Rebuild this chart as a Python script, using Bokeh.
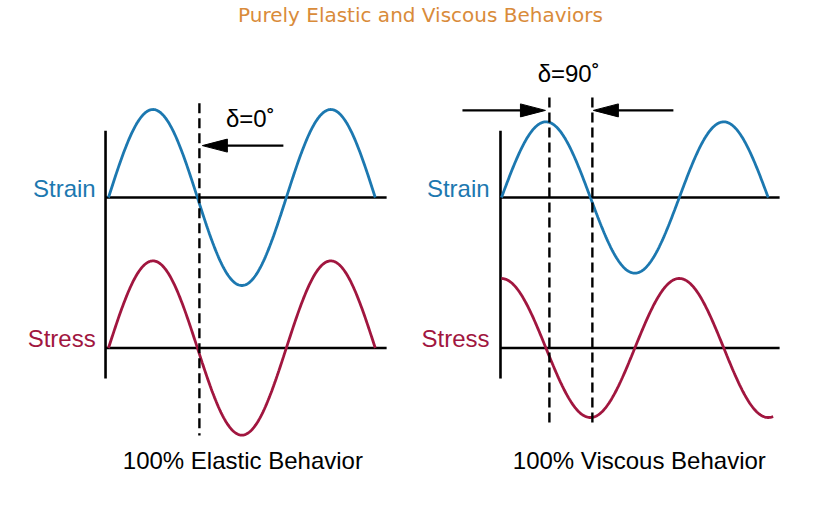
import numpy as np
from bokeh.plotting import figure
from bokeh.models import Range1d
from bokeh.embed import file_html
from bokeh.resources import INLINE
from bokeh.core.properties import value

# ---------------- data ----------------
TITLE = "Purely Elastic and Viscous Behaviors"
PANEL_NAMES = ["100% Elastic Behavior", "100% Viscous Behavior"]
SERIES = ["Strain", "Stress"]
STRAIN_AMP = [1.0, 0.86]          # amplitude of strain curve per panel
STRESS_AMP = [0.99, 0.79]         # amplitude of stress curve per panel
STRESS_LEAD_DEG = [0, 90]         # phase angle delta per panel
STRAIN_END_DEG = [540, 540]
STRESS_END_DEG = [540, 550]
DELTA_LABELS = ["δ=0˚", "δ=90˚"]
MARKER_DEG = [[184], [97, 184]]   # dashed phase markers per panel

# ---------------- layout / style ----------------
PX_PER_DEG = 0.494
PX_PER_UNIT = 88.0
W, H = 810, 520
X0 = -108 / PX_PER_DEG
Y_TOP = 347.5 / PX_PER_UNIT
PANEL_X = [0.0, 795.5]
BASE_Y = {"Strain": 1.71, "Stress": 0.0}
BLUE = "#1C78B0"
RED = "#A1163F"
ORANGE = "#D98B3A"
FONT = value("Liberation Sans")
FS = "24px"

p = figure(width=W, height=H, output_backend="svg", toolbar_location=None,
           x_range=Range1d(X0, X0 + W / PX_PER_DEG),
           y_range=Range1d(Y_TOP - H / PX_PER_UNIT, Y_TOP),
           x_axis_type=None, y_axis_type=None, min_border=0)
p.grid.visible = False
p.outline_line_color = None
p.background_fill_color = "white"
p.border_fill_color = "white"

for i in range(2):
    ox = PANEL_X[i]
    # vertical axis
    ax_x = ox - (6 if i == 0 else 2)
    p.line([ax_x, ax_x], [2.47, -0.347], line_color="black", line_width=2.6)
    # baselines
    for s in SERIES:
        p.line([ax_x, ox + 563], [BASE_Y[s], BASE_Y[s]], line_color="black", line_width=2.4)
    # curves
    t = np.linspace(0, STRAIN_END_DEG[i], 300)
    p.line(ox + t, BASE_Y["Strain"] + STRAIN_AMP[i] * np.sin(np.radians(t)),
           line_color=BLUE, line_width=2.8)
    t2 = np.linspace(0, STRESS_END_DEG[i], 300)
    p.line(ox + t2, BASE_Y["Stress"] + STRESS_AMP[i] * np.sin(np.radians(t2 + STRESS_LEAD_DEG[i])),
           line_color=RED, line_width=2.8)
    # series labels
    lx = ox - (26 if i == 0 else 24)
    p.text([lx], [1.81], text=["Strain"], text_color=BLUE, text_font=FONT,
           text_font_size=FS, text_align="right", text_baseline="middle")
    p.text([lx], [0.108], text=["Stress"], text_color=RED, text_font=FONT,
           text_font_size=FS, text_align="right", text_baseline="middle")
    # panel label
    p.text([ox + (272 if i == 0 else 279)], [-1.278], text=[PANEL_NAMES[i]],
           text_color="black", text_font=FONT, text_font_size=FS,
           text_align="center", text_baseline="middle")

# dashed markers
p.line([PANEL_X[0] + MARKER_DEG[0][0]] * 2, [2.78, -0.994], line_color="black",
       line_width=2.4, line_dash="10 5")
for m in MARKER_DEG[1]:
    p.line([PANEL_X[1] + m] * 2, [2.847, -0.903], line_color="black",
           line_width=2.4, line_dash="10 5")

# arrows: (tail_deg, tip_deg, y, panel)
ARROWS = [(354, 190, 2.30, 0), (-79, 89, 2.70, 1), (348, 186, 2.70, 1)]
HEAD_L = 25 / PX_PER_DEG
HEAD_H = 6.5 / PX_PER_UNIT
hx, hy = [], []
for tail, tip, y, pi in ARROWS:
    ox = PANEL_X[pi]
    d = 1 if tip > tail else -1
    p.line([ox + tail, ox + tip - d * HEAD_L * 0.5], [y, y], line_color="black", line_width=2.2)
    hx.append([ox + tip, ox + tip - d * HEAD_L, ox + tip - d * HEAD_L])
    hy.append([y, y + HEAD_H, y - HEAD_H])
p.patches(hx, hy, fill_color="black", line_color="black", line_width=1)

# delta labels
p.text([PANEL_X[0] + 287, PANEL_X[1] + 136], [2.61, 3.12], text=DELTA_LABELS,
       text_color="black", text_font=FONT, text_font_size=FS,
       text_align="center", text_baseline="middle")

# title
p.text([631.6], [3.78], text=[TITLE], text_color=ORANGE, text_font=value("DejaVu Sans"),
       text_font_size="20px", text_align="center", text_baseline="middle")

open("out.html", "w").write(file_html(p, INLINE))
